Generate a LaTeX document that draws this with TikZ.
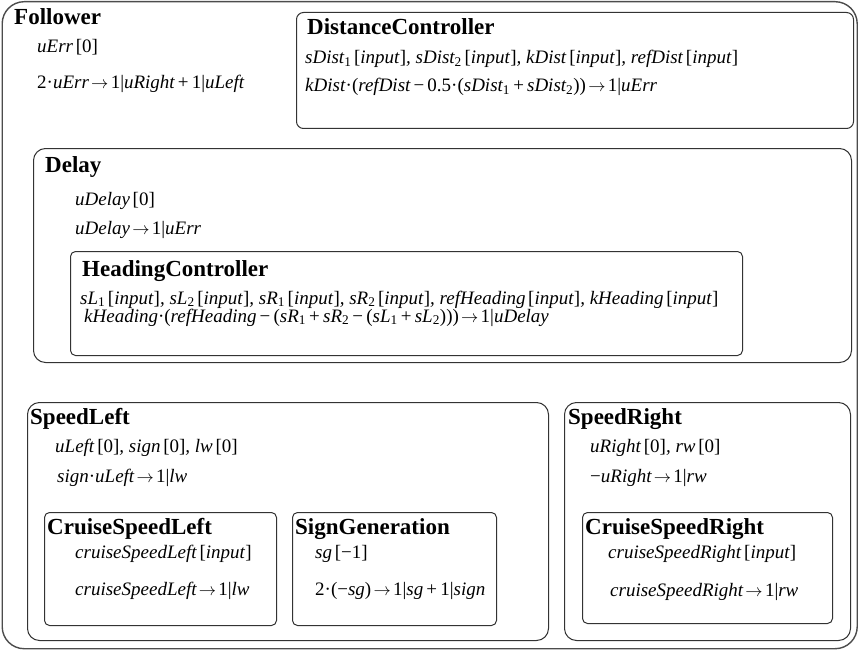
\documentclass[tikz,border=0pt]{standalone}
\usepackage{fontspec}
\setmainfont{Liberation Serif}
\newcommand{\U}[1]{\textup{#1}}
\newcommand{\lb}{\hspace{0.14em}\U{[}}
\newcommand{\rb}{\U{]}}
\newcommand{\arr}{\hspace{0.12em}\ensuremath{\rightarrow}\hspace{0.12em}}
\newcommand{\pls}{\,\U{+}\,}
\newcommand{\mns}{\,\U{−}\,}
\newcommand{\cd}{\U{·}}
\newcommand{\vb}{\U{|}}
\newcommand{\sbs}[1]{\textsubscript{\U{#1}}}
\begin{document}
\begin{tikzpicture}[x=1pt,y=-1pt,
  box/.style={draw=black!80, line width=1pt, rounded corners=#1, inner sep=0pt, anchor=north west},
  box/.default=5pt,
  ttl/.style={anchor=base west, inner sep=0pt, font=\fontsize{23}{23}\selectfont\bfseries},
  eq/.style={anchor=base west, inner sep=0pt, font=\fontsize{19}{19}\selectfont\itshape}]
\useasboundingbox (0,0) rectangle (859,650);
% boxes
\node[box=22pt, draw=black!70, line width=1.4pt, minimum width=855pt, minimum height=647pt] (follower) at (1.5,1) {};
\node[box=7pt, minimum width=557pt, minimum height=116pt] (dist) at (296,12) {};
\node[box=12pt, minimum width=818pt, minimum height=214pt] (delay) at (33,148) {};
\node[box=5pt, minimum width=672pt, minimum height=104pt] (head) at (70,251) {};
\node[box=12pt, minimum width=521pt, minimum height=238pt] (sleft) at (27,402) {};
\node[box=5pt, minimum width=232pt, minimum height=113pt] (csl) at (44,512) {};
\node[box=5pt, minimum width=204pt, minimum height=113pt] (sign) at (292,512) {};
\node[box=12pt, minimum width=286pt, minimum height=238pt] (sright) at (564,402) {};
\node[box=5pt, minimum width=250pt, minimum height=111pt] (csr) at (582,512) {};
% Follower
\node[ttl] (tfol) at (14,25) {Follower};
\node[eq] (f1) at (37,53) {uErr\lb\U{0}\rb};
\node[eq] (f2) at (37,89) {\U{2}\cd uErr\arr\U{1}\vb uRight\pls\U{1}\vb uLeft};
% DistanceController
\node[ttl] (tdist) at (307,35) {DistanceController};
\node[eq] (d1) at (305,64) {sDist\sbs{1}\lb input\rb, sDist\sbs{2}\lb input\rb, kDist\lb input\rb, refDist\lb input\rb};
\node[eq] (d2) at (305,92) {kDist\cd\U{(}refDist\mns\U{0.5}\cd\U{(}sDist\sbs{1}\pls sDist\sbs{2}\U{))}\arr\U{1}\vb uErr};
% Delay
\node[ttl] (tdel) at (45,172) {Delay};
\node[eq] (de1) at (75,205) {uDelay\lb\U{0}\rb};
\node[eq] (de2) at (75,234) {uDelay\arr\U{1}\vb uErr};
% HeadingController
\node[ttl] (thead) at (82,276) {HeadingController};
\node[eq] (h1) at (80,304) {sL\sbs{1}\lb input\rb, sL\sbs{2}\lb input\rb, sR\sbs{1}\lb input\rb, sR\sbs{2}\lb input\rb, refHeading\lb input\rb, kHeading\lb input\rb};
\node[eq] (h2) at (84,322) {kHeading\cd\U{(}refHeading\mns\U{(}sR\sbs{1}\pls sR\sbs{2}\mns\U{(}sL\sbs{1}\pls sL\sbs{2}\U{)))}\arr\U{1}\vb uDelay};
% SpeedLeft
\node[ttl] (tsl) at (30,424) {SpeedLeft};
\node[eq] (sl1) at (55,452) {uLeft\lb\U{0}\rb, sign\lb\U{0}\rb, lw\lb\U{0}\rb};
\node[eq] (sl2) at (57,482) {sign\cd uLeft\arr\U{1}\vb lw};
% CruiseSpeedLeft
\node[ttl] (tcsl) at (47,534) {CruiseSpeedLeft};
\node[eq] (c1) at (75,558) {cruiseSpeedLeft\lb input\rb};
\node[eq] (c2) at (75,595) {cruiseSpeedLeft\arr\U{1}\vb lw};
% SignGeneration
\node[ttl] (tsg) at (295,534) {SignGeneration};
\node[eq] (g1) at (315,558) {sg\lb\U{−1}\rb};
\node[eq] (g2) at (315,595) {\U{2}\cd\U{(−}sg\U{)}\arr\U{1}\vb sg\pls\U{1}\vb sign};
% SpeedRight
\node[ttl] (tsr) at (568,424) {SpeedRight};
\node[eq] (r1) at (590,452) {uRight\lb\U{0}\rb, rw\lb\U{0}\rb};
\node[eq] (r2) at (590,482) {\U{−}uRight\arr\U{1}\vb rw};
% CruiseSpeedRight
\node[ttl] (tcsr) at (585,534) {CruiseSpeedRight};
\node[eq] (cr1) at (608,558) {cruiseSpeedRight\lb input\rb};
\node[eq] (cr2) at (610,596) {cruiseSpeedRight\arr\U{1}\vb rw};
\end{tikzpicture}
\end{document}
